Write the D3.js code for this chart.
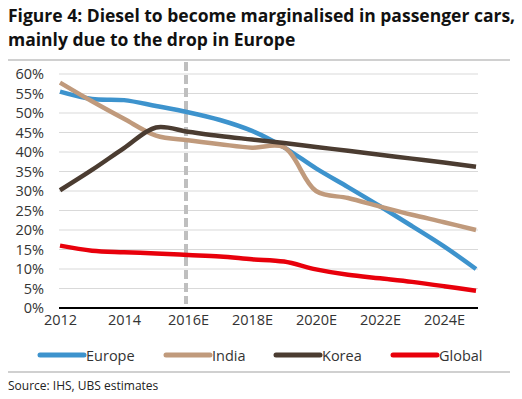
<!DOCTYPE html>
<html>
<head>
<meta charset="utf-8">
<script src="https://cdn.jsdelivr.net/npm/d3@7"></script>
<style>
  body { margin: 0; background: #fff; }
  svg { display: block; font-family: "Open Sans", "Noto Sans", sans-serif; }
</style>
</head>
<body>
<script>
// data
const years = [2012, 2013, 2014, 2015, 2016, 2017, 2018, 2019, 2020, 2021, 2022, 2023, 2024, 2025]
const europe = [55.5, 53.6, 53.3, 51.8, 50.2, 48.2, 45.4, 41.2, 35.8, 31.0, 26.1, 21.0, 15.8, 10.0]
const india  = [57.8, 53.0, 48.5, 44.2, 43.0, 42.0, 41.1, 41.2, 30.0, 28.2, 26.0, 23.9, 22.0, 20.0]
const korea  = [30.2, 35.4, 41.0, 46.3, 45.2, 44.1, 43.2, 42.3, 41.3, 40.3, 39.3, 38.3, 37.3, 36.2]
const global = [16.0, 14.7, 14.3, 14.0, 13.6, 13.2, 12.5, 11.9, 9.9, 8.5, 7.6, 6.7, 5.6, 4.4]
const xTicks = [2012, 2014, 2016, 2018, 2020, 2022, 2024]
const xTickLabels = ["2012", "2014", "2016E", "2018E", "2020E", "2022E", "2024E"]
const yTicks = [0, 5, 10, 15, 20, 25, 30, 35, 40, 45, 50, 55, 60]
const seriesNames = ["Europe", "India", "Korea", "Global"]
const seriesColors = ["#3d93cd", "#c09a7c", "#4b3c31", "#e8000b"]
const seriesValues = [europe, india, korea, global]
const dividerYear = 2016

const W = 522, H = 399
const svg = d3.select("body").append("svg")
              .attr("width", W)
              .attr("height", H)

svg.append("text")
   .attr("x", 8).attr("y", 22)
   .attr("font-size", 17.5).attr("font-weight", "bold").attr("fill", "#111")
   .text("Figure 4: Diesel to become marginalised in passenger cars,")
svg.append("text")
   .attr("x", 8).attr("y", 46)
   .attr("font-size", 17.5).attr("font-weight", "bold").attr("fill", "#111")
   .text("mainly due to the drop in Europe")

svg.append("line")
   .attr("x1", 8).attr("x2", 510).attr("y1", 60).attr("y2", 60)
   .attr("stroke", "#d0d0d0").attr("stroke-width", 2)

const x = d3.scaleLinear().domain([2012, 2025]).range([60, 476])
const y = d3.scaleLinear().domain([0, 60]).range([308, 74])

// gridlines
svg.append("g")
   .selectAll("line")
   .data(yTicks.filter(d => d > 0))
   .enter()
   .append("line")
   .attr("x1", 59).attr("x2", 478)
   .attr("y1", d => y(d)).attr("y2", d => y(d))
   .attr("stroke", "#d9d9d9").attr("stroke-width", 1)

const yAxis = d3.axisLeft(y).tickValues(yTicks).tickSize(0).tickPadding(0)
                .tickFormat(d => d + "%")
svg.append("g")
   .attr("transform", "translate(44,0)")
   .call(yAxis)
   .call(g => g.select(".domain").remove())
   .selectAll("text")
   .attr("font-size", 14.5).attr("fill", "#333").attr("font-family", "'Open Sans', sans-serif")

const xAxis = d3.axisBottom(x).tickValues(xTicks).tickSize(0).tickPadding(0)
                .tickFormat((d, i) => xTickLabels[i])
svg.append("g")
   .attr("transform", "translate(0,315)")
   .call(xAxis)
   .call(g => g.select(".domain").remove())
   .selectAll("text")
   .attr("font-size", 14.5).attr("fill", "#333").attr("font-family", "'Open Sans', sans-serif")

// dashed divider
svg.append("line")
   .attr("x1", x(dividerYear) - 2).attr("x2", x(dividerYear) - 2)
   .attr("y1", 62).attr("y2", 304)
   .attr("stroke", "#bfbfbf").attr("stroke-width", 4)
   .attr("stroke-dasharray", "9,4")

svg.append("line")
   .attr("x1", 59).attr("x2", 478).attr("y1", y(0)).attr("y2", y(0))
   .attr("stroke", "#000").attr("stroke-width", 2)

const line = d3.line()
               .x((d, i) => x(years[i]))
               .y(d => y(d))
               .curve(d3.curveCatmullRom.alpha(0.5))

svg.append("g")
   .selectAll("path")
   .data(seriesValues)
   .enter()
   .append("path")
   .attr("d", d => line(d))
   .attr("fill", "none")
   .attr("stroke", (d, i) => seriesColors[i])
   .attr("stroke-width", 4.5)
   .attr("stroke-linecap", "butt")

// legend
const legendX = [40, 166, 276, 393]
const legend = svg.append("g").attr("id", "legend")
seriesNames.forEach((name, i) => {
    legend.append("line")
          .attr("x1", legendX[i]).attr("x2", legendX[i] + 44)
          .attr("y1", 355).attr("y2", 355)
          .attr("stroke", seriesColors[i]).attr("stroke-width", 5)
          .attr("stroke-linecap", "round")
    legend.append("text")
          .attr("x", legendX[i] + 46).attr("y", 360.5)
          .attr("font-size", 14.5).attr("fill", "#333")
          .text(name)
})

svg.append("line")
   .attr("x1", 8).attr("x2", 510).attr("y1", 372).attr("y2", 372)
   .attr("stroke", "#d0d0d0").attr("stroke-width", 2)

svg.append("text")
   .attr("x", 8).attr("y", 390)
   .attr("font-size", 12).attr("fill", "#222")
   .text("Source: IHS, UBS estimates")
</script>
</body>
</html>
